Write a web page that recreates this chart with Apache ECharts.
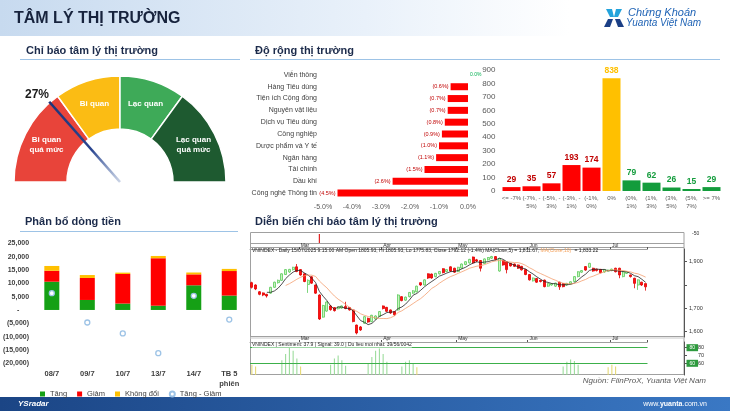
<!DOCTYPE html>
<html><head><meta charset="utf-8">
<script src="https://cdn.jsdelivr.net/npm/echarts@6/dist/echarts.min.js"></script>
<style>html,body{margin:0;padding:0;background:#fff}#c{width:730px;height:411px}</style>
</head><body><div id="c"></div><script>
const FONT = 'Liberation Sans, Arial, sans-serif';

// ---------- Gauge ----------
const gaugeZones = ['Bi quan\nquá mức', 'Bi quan', 'Lạc quan', 'Lạc quan\nquá mức'];
const gaugeZoneSizes = [30, 20, 20, 30];
const sentimentValue = 27;

// ---------- Sector breadth ----------
const sectors = ['Viễn thông','Hàng Tiêu dùng','Tiện ích Cộng đồng','Nguyên vật liệu','Dịch vụ Tiêu dùng','Công nghiệp','Dược phẩm và Y tế','Ngân hàng','Tài chính','Dầu khí','Công nghệ Thông tin'];
const sectorChange = [0.0,-0.6,-0.7,-0.7,-0.8,-0.9,-1.0,-1.1,-1.5,-2.6,-4.5];

// ---------- Distribution of stocks ----------
const distBins = ['<= -7%','(-7%, -\n5%)','(-5%, -\n3%)','(-3%, -\n1%)','(-1%,\n0%)','0%','(0%,\n1%)','(1%,\n3%)','(3%,\n5%)','(5%,\n7%)','>= 7%'];
const distCounts = [29,35,57,193,174,838,79,62,26,15,29];
const distSide = ['d','d','d','d','d','f','u','u','u','u','u'];

// ---------- Money flow ----------
const flowDays = ['08/7','09/7','10/7','13/7','14/7','TB 5\nphiên'];
const flowUp   = [10600, 3750, 2400, 1600, 9250, 5400];
const flowDown = [4100, 8250, 11100, 17800, 4100, 9200];
const flowFlat = [1800, 1100, 500, 850, 700, 800];
const flowNet  = [6300, -4700, -8800, -16200, 5300, -3600];

// ---------- VNINDEX candles [open, close, low, high] ----------
const ohlc = [
[1810,1790,1785,1814],[1800,1783,1778,1803],[1771,1760,1756,1774],[1766,1757,1752,1768],[1760,1753,1746,1762],
[1765,1790,1762,1792],[1790,1812,1788,1814],[1810,1820,1806,1823],[1820,1848,1818,1850],[1845,1866,1843,1868],
[1856,1867,1852,1869],[1866,1876,1862,1878],[1878,1858,1855,1890],[1866,1843,1840,1868],[1848,1815,1812,1850],
[1802,1820,1766,1824],[1835,1808,1805,1838],[1800,1765,1762,1802],[1757,1654,1650,1760],[1662,1712,1660,1715],
[1688,1727,1685,1730],[1710,1694,1690,1714],[1703,1690,1686,1705],[1698,1706,1695,1708],[1701,1710,1698,1712],
[1708,1699,1696,1728],[1703,1693,1690,1705],[1693,1643,1640,1695],[1628,1594,1588,1630],[1620,1607,1603,1624],
[1636,1664,1633,1666],[1657,1641,1638,1660],[1643,1670,1640,1672],[1654,1667,1650,1670],[1665,1686,1662,1688],
[1710,1699,1695,1712],[1704,1687,1684,1706],[1693,1680,1676,1695],[1686,1672,1668,1688],[1693,1757,1690,1760],
[1750,1733,1730,1752],[1735,1748,1732,1750],[1750,1768,1747,1770],[1765,1775,1762,1778],[1771,1795,1768,1797],
[1810,1800,1796,1812],[1800,1822,1798,1824],[1848,1830,1826,1850],[1847,1830,1827,1849],[1836,1850,1833,1852],
[1848,1858,1845,1860],[1870,1853,1850,1872],[1858,1866,1855,1868],[1878,1860,1856,1880],[1872,1855,1852,1874],
[1858,1876,1855,1878],[1873,1890,1870,1892],[1888,1900,1885,1902],[1895,1910,1892,1912],[1920,1895,1892,1922],
[1908,1903,1898,1912],[1905,1872,1858,1907],[1892,1912,1890,1914],[1908,1918,1905,1920],[1915,1922,1912,1925],
[1922,1910,1906,1924],[1860,1914,1857,1916],[1905,1886,1883,1907],[1900,1866,1850,1902],[1893,1882,1879,1895],
[1890,1880,1877,1892],[1886,1872,1869,1888],[1880,1865,1862,1882],[1866,1845,1842,1868],[1845,1822,1819,1847],
[1818,1830,1815,1832],[1828,1812,1809,1830],[1820,1815,1811,1822],[1821,1793,1790,1823],[1795,1806,1792,1808],
[1800,1805,1797,1807],[1795,1808,1792,1810],[1812,1792,1779,1814],[1806,1793,1790,1808],[1800,1807,1797,1809],
[1805,1814,1802,1816],[1815,1836,1812,1838],[1836,1857,1833,1859],[1855,1862,1852,1864],[1879,1864,1861,1881],
[1876,1893,1873,1895],[1872,1860,1857,1874],[1868,1862,1858,1870],[1867,1853,1850,1869],[1856,1866,1853,1868],
[1860,1864,1857,1866],[1862,1868,1859,1870],[1872,1857,1854,1874],[1872,1843,1829,1874],[1836,1857,1833,1859],
[1850,1857,1847,1859],[1843,1836,1832,1845],[1829,1807,1786,1831],[1800,1822,1779,1824],[1812,1800,1796,1814],
[1805.93,1792.12,1775.83,1805.93]
];
const monthIdx = [13, 35, 55, 74, 96];
const monthNames = ['Mar', 'Apr', 'May', 'Jun', 'Jul'];
const priceTicks = [1600, 1700, 1800, 1900];
const priceLabels = [1600, 1700, 1900];
const lastMA5 = 1811.67, lastMA10 = 1833.22, lastClose = 1792.12;
const signalIdx = [18];
const stripTickLabels = ['-50'];
// sentiment histogram [index, value, kind]
const sentBars = [[0,58,'y'],[1,56,'y'],[8,64,'g'],[9,72,'g'],[10,80,'g'],[11,76,'g'],[12,66,'g'],[13,56,'y'],
[21,58,'g'],[22,66,'g'],[23,70,'g'],[24,64,'g'],[25,57,'g'],
[31,60,'g'],[32,68,'g'],[33,76,'g'],[34,79,'g'],[35,72,'g'],[36,62,'g'],
[40,56,'g'],[41,62,'g'],[42,64,'g'],[43,60,'g'],[44,55,'y'],
[83,56,'g'],[84,62,'g'],[85,65,'g'],[86,63,'g'],[87,58,'g'],
[95,55,'y'],[96,58,'y'],[97,56,'y']];
const sentLevels = [80, 60];
const sentTicks = [60, 70, 80];

// ---------- build ----------
const N = ohlc.length;
const cats = ohlc.map((_, i) => String(i));
function ma(n) {
  return ohlc.map((d, i) => i < n - 1 ? null : +(ohlc.slice(i - n + 1, i + 1).reduce((s, x) => s + x[1], 0) / n).toFixed(2));
}
const sentData = new Array(N).fill(null);
sentBars.forEach(([i, v, k]) => { sentData[i] = { value: v, itemStyle: { color: k === 'g' ? '#93d993' : '#e3d56a' } }; });
const stripData = new Array(N).fill(null);
signalIdx.forEach(i => stripData[i] = 1);

const zoneColors = ['#e8443a', '#fbbc14', '#3eaa58', '#1e5a30'];
const sideColor = { d: '#ff0000', f: '#ffc000', u: '#139c3c' };
const sideLabel = { d: '#c00000', f: '#ffc000', u: '#139c3c' };
const fmt = v => Math.round(v).toLocaleString('en-US');
const fmt2 = v => v.toLocaleString('en-US', { minimumFractionDigits: 2, maximumFractionDigits: 2 });
const isMonth = i => monthIdx.indexOf(Number(i)) >= 0;

function T(x, y, text, font, fill, align, valign, extra) {
  return { type: 'text', x, y, silent: true, style: Object.assign({ text, font, fill, textAlign: align || 'left', textVerticalAlign: valign || 'middle' }, extra || {}) };
}
function L(x1, y1, x2, y2, stroke, w) {
  return { type: 'line', silent: true, shape: { x1, y1, x2, y2 }, style: { stroke, lineWidth: w || 1 } };
}

const graphic = [
  { type: 'rect', silent: true, z: -10, shape: { x: 0, y: 0, width: 730, height: 36 },
    style: { fill: new echarts.graphic.LinearGradient(0, 0, 1, 0, [{ offset: 0, color: '#c7daef' }, { offset: 0.5, color: '#e9f1fa' }, { offset: 0.78, color: '#ffffff' }]) } },
  T(14, 19, 'TÂM LÝ THỊ TRƯỜNG', 'bold 16px ' + FONT, '#17233d'),
  // logo
  { type: 'polygon', silent: true, shape: { points: [[606, 9], [612, 9], [614, 17], [610, 17]] }, style: { fill: '#23a3dc' } },
  { type: 'polygon', silent: true, shape: { points: [[622, 9], [616, 9], [614, 17], [618, 17]] }, style: { fill: '#23a3dc' } },
  { type: 'polygon', silent: true, shape: { points: [[604, 27], [610, 27], [613, 19], [608, 19]] }, style: { fill: '#1b3f86' } },
  { type: 'polygon', silent: true, shape: { points: [[624, 27], [618, 27], [615, 19], [620, 19]] }, style: { fill: '#1b3f86' } },
  T(628, 13, 'Chứng Khoán', 'italic 11px ' + FONT, '#1f63b5'),
  T(626, 23, 'Yuanta Việt Nam', 'italic 10px ' + FONT, '#1f63b5'),
  // section titles
  T(26, 51, 'Chỉ báo tâm lý thị trường', 'bold 11px ' + FONT, '#1c2b4b'),
  L(20, 59.5, 240, 59.5, '#9dc3e6'),
  T(255, 51, 'Độ rộng thị trường', 'bold 11px ' + FONT, '#1c2b4b'),
  L(250, 59.5, 720, 59.5, '#9dc3e6'),
  T(25, 222, 'Phân bổ dòng tiền', 'bold 11px ' + FONT, '#1c2b4b'),
  L(20, 231.5, 238, 231.5, '#9dc3e6'),
  T(255, 222, 'Diễn biến chỉ báo tâm lý thị trường', 'bold 11px ' + FONT, '#1c2b4b'),
  // candle panel frame
  { type: 'rect', silent: true, shape: { x: 250.5, y: 232.5, width: 433.5, height: 142 }, style: { fill: null, stroke: '#a0a0a0', lineWidth: 1 } },
  L(250, 243.5, 684, 243.5, '#a0a0a0'),
  L(250, 247.5, 684, 247.5, '#a0a0a0'),
  L(250, 336.5, 684, 336.5, '#a0a0a0'),
  L(250, 338, 684, 338, '#c8c8c8'),
  T(692, 234, stripTickLabels[0], '5px ' + FONT, '#333'),
  { type: 'text', x: 252, y: 251, silent: true, z: 50, style: { text: '{a|VNINDEX - Daily 15/07/2025 9:15:00 AM Open 1805.93, Hi 1805.93, Lo 1775.83, Close 1792.12 (-1.4%) MA(Close,5) = 1,811.67, }{b|MA(Close,10)} {a|= 1,833.22}', textVerticalAlign: 'middle',
    rich: { a: { fontSize: 5, fontFamily: FONT, fill: '#222', color: '#222' }, b: { fontSize: 5, fontFamily: FONT, fill: '#f4a460', color: '#f4a460' } } } },
  { type: 'text', x: 252, y: 345, silent: true, z: 50, style: { text: 'VNINDEX | Sentiment: 37.9 | Signal: 39.0 | Du lieu moi nhat: 39/56/0042', font: '5px ' + FONT, fill: '#222', textVerticalAlign: 'middle', backgroundColor: '#fff' } },
  T(706, 381, 'Nguồn: FiinProX, Yuanta Việt Nam', 'italic 8px ' + FONT, '#595959', 'right'),
  // footer
  { type: 'rect', silent: true, shape: { x: 0, y: 397, width: 730, height: 14 },
    style: { fill: new echarts.graphic.LinearGradient(0, 0, 1, 0, [{ offset: 0, color: '#1b4585' }, { offset: 1, color: '#3a78c4' }]) } },
  T(18, 404, 'YSradar', 'italic bold 8px ' + FONT, '#ffffff'),
  { type: 'text', x: 707, y: 404, silent: true, style: { text: '{a|www.}{b|yuanta}{a|.com.vn}', textAlign: 'right', textVerticalAlign: 'middle',
    rich: { a: { fontSize: 7, fontFamily: FONT, color: '#ffffff', fill: '#ffffff' }, b: { fontSize: 7, fontWeight: 'bold', fontFamily: FONT, color: '#ffffff', fill: '#ffffff' } } } }
];

const option = {
  animation: false,
  backgroundColor: '#ffffff',
  textStyle: { fontFamily: FONT },
  graphic,
  legend: {
    left: 35, top: 385, itemWidth: 5, itemHeight: 5, itemGap: 10,
    textStyle: { fontSize: 7.5, color: '#404040', fontFamily: FONT },
    data: [{ name: 'Tăng', icon: 'rect' }, { name: 'Giảm', icon: 'rect' }, { name: 'Không đổi', icon: 'rect' }, { name: 'Tăng - Giảm', icon: 'circle' }]
  },
  grid: [
    { left: 323, top: 69, width: 145, height: 130 },
    { left: 501.5, top: 70, width: 220, height: 121 },
    { left: 33, top: 243.3, width: 214, height: 120 },
    { left: 250, top: 234, width: 397.5, height: 9 },
    { left: 250, top: 249, width: 397.5, height: 88 },
    { left: 250, top: 342, width: 397.5, height: 33 }
  ],
  xAxis: [
    { gridIndex: 0, type: 'value', min: -5, max: 0, interval: 1, splitLine: { show: false }, axisLine: { show: false }, axisTick: { show: false },
      axisLabel: { fontSize: 7, color: '#595959', margin: 5, formatter: v => v.toFixed(1) + '%' } },
    { gridIndex: 1, type: 'category', data: distBins, axisLine: { show: false }, axisTick: { show: false },
      axisLabel: { interval: 0, fontSize: 6, color: '#595959', margin: 3, lineHeight: 8 } },
    { gridIndex: 2, type: 'category', data: flowDays, axisLine: { show: false, onZero: false }, axisTick: { show: false },
      axisLabel: { interval: 0, fontSize: 7.5, fontWeight: 'bold', color: '#404040', margin: 6, lineHeight: 10 } },
    { gridIndex: 3, type: 'category', data: cats, show: false },
    { gridIndex: 4, type: 'category', data: cats, position: 'top', axisLine: { show: true, lineStyle: { color: '#a0a0a0' } },
      axisTick: { show: true, interval: (i) => isMonth(i), length: 2, lineStyle: { color: '#555' } },
      axisLabel: { interval: (i) => isMonth(i), formatter: v => monthNames[monthIdx.indexOf(Number(v))], fontSize: 5, color: '#333', margin: 0.5, align: 'left' } },
    { gridIndex: 5, type: 'category', data: cats, position: 'top', axisLine: { show: true, lineStyle: { color: '#a0a0a0' } },
      axisTick: { show: true, interval: (i) => isMonth(i), length: 2, lineStyle: { color: '#555' } },
      axisLabel: { interval: (i) => isMonth(i), formatter: v => monthNames[monthIdx.indexOf(Number(v))], fontSize: 5, color: '#333', margin: 0.5, align: 'left' } }
  ],
  yAxis: [
    { gridIndex: 0, type: 'category', data: sectors, inverse: true, axisLine: { show: false }, axisTick: { show: false },
      axisLabel: { fontSize: 7, color: '#404040', margin: 6 } },
    { gridIndex: 1, type: 'value', min: 0, max: 900, interval: 100, splitLine: { show: false }, axisLine: { show: false }, axisTick: { show: false },
      axisLabel: { fontSize: 8, color: '#595959', margin: 6 } },
    { gridIndex: 2, type: 'value', min: -20000, max: 25000, interval: 5000, splitLine: { show: false }, axisLine: { show: false }, axisTick: { show: false },
      axisLabel: { fontSize: 7, fontWeight: 'bold', color: '#404040', margin: 5,
        formatter: v => v === 0 ? '-     ' : (v < 0 ? '(' + fmt(-v) + ')' : fmt(v)) } },
    { gridIndex: 3, type: 'value', min: 0, max: 1, show: false },
    { gridIndex: 4, type: 'value', position: 'right', offset: 36.5, min: 1576.8, max: 1954.5, splitLine: { show: false },
      axisLine: { show: true, lineStyle: { color: '#555' } },
      axisTick: { show: true, length: 3, customValues: priceTicks, lineStyle: { color: '#555' } },
      axisLabel: { customValues: priceLabels, fontSize: 5.5, color: '#333', margin: 5, formatter: v => fmt(v) } },
    { gridIndex: 5, type: 'value', position: 'right', offset: 36.5, min: 45, max: 87.3, splitLine: { show: false },
      axisLine: { show: true, lineStyle: { color: '#555' } },
      axisTick: { show: true, length: 3, customValues: sentTicks, lineStyle: { color: '#555' } },
      axisLabel: { customValues: sentTicks, fontSize: 5.5, color: '#333', margin: 14 } }
  ],
  series: [
    // gauge ring
    { type: 'pie', silent: true, z: 2, center: [120, 182], radius: [53, 106], startAngle: 180, clockwise: true,
      itemStyle: { borderColor: '#fff', borderWidth: 1.5 },
      label: { show: true, position: 'inside', color: '#fff', fontSize: 8, fontWeight: 'bold', lineHeight: 10, fontFamily: FONT, formatter: '{b}' },
      labelLine: { show: false }, emphasis: { disabled: true },
      data: gaugeZones.map((n, i) => ({ name: n, value: gaugeZoneSizes[i], itemStyle: { color: zoneColors[i] } }))
        .concat([{ name: '', value: gaugeZoneSizes.reduce((a, b) => a + b, 0), itemStyle: { color: 'rgba(0,0,0,0)', borderWidth: 0 }, label: { show: false } }]) },
    // needle
    { type: 'gauge', z: 10, zlevel: 1, center: [120, 182], radius: 107, startAngle: 180, endAngle: 0, min: 0, max: 100, silent: true,
      axisLine: { show: false }, splitLine: { show: false }, axisTick: { show: false }, axisLabel: { show: false },
      progress: { show: false }, anchor: { show: false }, title: { show: false },
      pointer: { show: true, icon: 'rect', length: 107, width: 2.6, offsetCenter: [0, 0],
        itemStyle: { color: new echarts.graphic.LinearGradient(0, 0, 0, 1, [{ offset: 0, color: '#1d3479' }, { offset: 0.6, color: '#2a4590' }, { offset: 1, color: 'rgba(80,110,170,0.3)' }]) } },
      detail: { show: true, offsetCenter: [-83, -87], formatter: '{value}%', fontSize: 12, fontWeight: 'bold', color: '#1a1a1a', fontFamily: FONT },
      data: [{ value: sentimentValue }] },
    // sector bars
    { type: 'bar', xAxisIndex: 0, yAxisIndex: 0, barWidth: 7, silent: true,
      data: sectorChange.map(v => v === 0 ? { value: v, itemStyle: { color: '#00b050' },
          label: { show: true, position: 'right', distance: 2, color: '#00b050', fontSize: 5, formatter: () => v.toFixed(1) + '%' } }
        : { value: v, itemStyle: { color: '#ff0000' } }),
      label: { show: true, position: 'left', distance: 2, fontSize: 5.5, color: '#c00000', formatter: p => '(' + Math.abs(p.value).toFixed(1) + '%)' } },
    // distribution bars
    { type: 'bar', xAxisIndex: 1, yAxisIndex: 1, barWidth: 18, silent: true,
      data: distCounts.map((v, i) => ({ value: v, itemStyle: { color: sideColor[distSide[i]] }, label: { color: sideLabel[distSide[i]] } })),
      label: { show: true, position: 'top', distance: 3, fontSize: 8.5, fontWeight: 'bold' } },
    // money flow
    { name: 'Tăng', type: 'bar', stack: 'f', xAxisIndex: 2, yAxisIndex: 2, barWidth: 15, data: flowUp, itemStyle: { color: '#15a015' } },
    { name: 'Giảm', type: 'bar', stack: 'f', xAxisIndex: 2, yAxisIndex: 2, barWidth: 15, data: flowDown, itemStyle: { color: '#ff0000' } },
    { name: 'Không đổi', type: 'bar', stack: 'f', xAxisIndex: 2, yAxisIndex: 2, barWidth: 15, data: flowFlat, itemStyle: { color: '#ffc000' } },
    { name: 'Tăng - Giảm', type: 'scatter', xAxisIndex: 2, yAxisIndex: 2, symbol: 'circle', symbolSize: 5, z: 5, data: flowNet,
      itemStyle: { color: '#ffffff', borderColor: '#9dc3e6', borderWidth: 1.3, opacity: 1 } },
    // signal strip
    { type: 'bar', xAxisIndex: 3, yAxisIndex: 3, barWidth: 1.2, data: stripData, itemStyle: { color: '#e02020' }, silent: true },
    // candles
    { type: 'candlestick', xAxisIndex: 4, yAxisIndex: 4, barWidth: '72%', data: ohlc, silent: true,
      itemStyle: { color: '#c9f3c0', color0: '#ff1010', borderColor: '#5ccc5c', borderColor0: '#e00000', borderWidth: 0.8 },
      markLine: { symbol: 'none', silent: true, lineStyle: { opacity: 0 },
        label: { show: true, position: 'end', distance: 40, fontSize: 5.5, fontFamily: FONT, padding: [1, 3] },
        data: [
          { yAxis: lastMA10, label: { formatter: () => fmt2(lastMA10), backgroundColor: '#f6a457', color: '#222' } },
          { yAxis: lastMA5, label: { formatter: () => fmt2(lastMA5), backgroundColor: '#111', color: '#fff' } },
          { yAxis: lastClose, label: { formatter: () => fmt2(lastClose), color: '#222' } }
        ] } },
    { type: 'line', xAxisIndex: 4, yAxisIndex: 4, data: ma(5), symbol: 'none', silent: true, lineStyle: { color: '#222', width: 0.8 } },
    { type: 'line', xAxisIndex: 4, yAxisIndex: 4, data: ma(10), symbol: 'none', silent: true, lineStyle: { color: '#f4a070', width: 0.8 } },
    // sentiment
    { type: 'bar', xAxisIndex: 5, yAxisIndex: 5, barWidth: 1, data: sentData, silent: true,
      markLine: { symbol: 'none', silent: true, lineStyle: { color: '#3cb04a', width: 1, type: 'solid' },
        label: { show: true, position: 'end', distance: 39, fontSize: 5, color: '#fff', backgroundColor: '#2e9a3e', padding: [1, 3], formatter: p => p.value },
        data: sentLevels.map(v => ({ yAxis: v })) } }
  ]
};

const chart = echarts.init(document.getElementById('c'), null, { renderer: 'canvas', width: 730, height: 411 });
chart.setOption(option);
</script></body></html>
